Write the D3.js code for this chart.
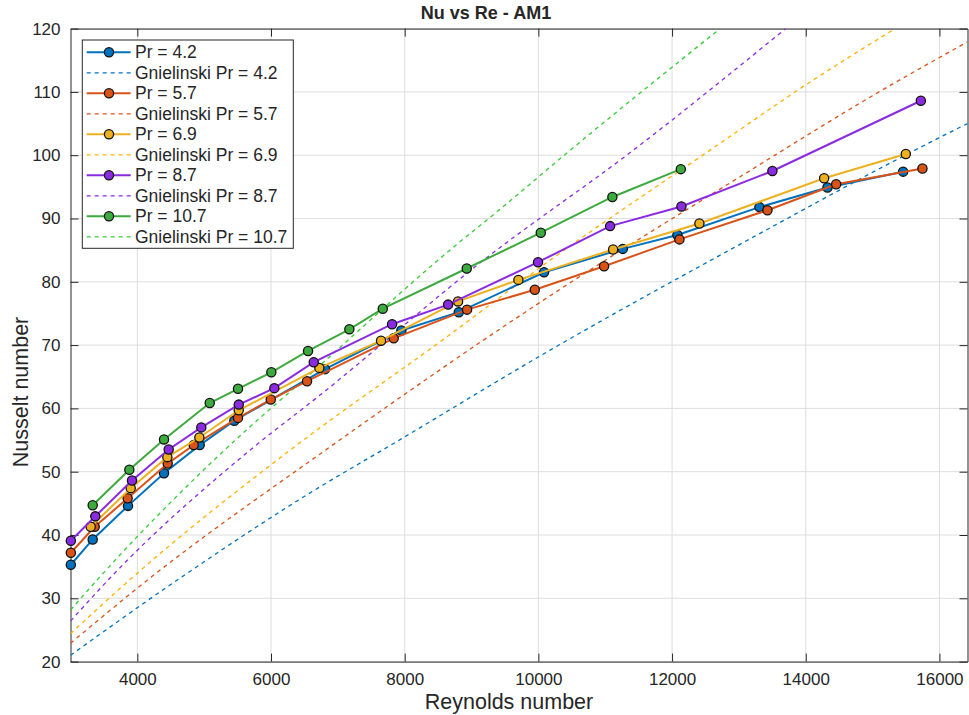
<!DOCTYPE html>
<html><head><meta charset="utf-8">
<script src="https://cdn.jsdelivr.net/npm/d3@7"></script>
<style>
body{margin:0;background:#fff;}
text{font-family:"Liberation Sans",Arial,Helvetica,sans-serif;fill:#262626;}
</style></head>
<body><svg id="chart" width="969" height="715"></svg>
<script>
// ---- data ----
const seriesNames = ["Pr = 4.2","Pr = 5.7","Pr = 6.9","Pr = 8.7","Pr = 10.7"];
const gnielNames = ["Gnielinski Pr = 4.2","Gnielinski Pr = 5.7","Gnielinski Pr = 6.9","Gnielinski Pr = 8.7","Gnielinski Pr = 10.7"];
const colors = ["#0072BD","#D95319","#EDB120","#8A2BE2","#3DAA3D"];
const dashColors = ["#0072BD","#D95319","#FFB000","#8A2BE2","#33CC33"];

const re42 = [3005,3332,3860,4399,4933,5451,6808,7950,8809,10085,11263,12080,13307,14325,15457];
const nu42 = [35.3,39.3,44.6,49.75,54.2,58.06,66.2,72.3,75.2,81.5,85.2,87.4,91.8,94.9,97.4];
const re57 = [3005,3362,3855,4454,4843,5506,5996,6539,7836,8933,9946,10983,12110,13427,14455,15746];
const nu57 = [37.2,41.3,45.8,51.3,54.2,58.5,61.4,64.3,71.07,75.6,78.75,82.45,86.7,91.3,95.4,97.9];
const re69 = [3302,3901,4449,4928,5517,6723,7646,8798,9701,11118,12409,14275,15497];
const nu69 = [41.3,47.4,52.3,55.4,59.7,66.4,70.7,76.9,80.3,85.1,89.2,96.35,100.2];
const re87 = [3005,3371,3920,4469,4957,5517,6050,6639,7811,8649,9995,11073,12140,13501,15722];
const nu87 = [39.1,42.95,48.6,53.5,57.0,60.6,63.2,67.3,73.3,76.4,83.1,88.8,91.9,97.5,108.6];
const re107 = [3332,3880,4399,5083,5506,6005,6554,7172,7672,8928,10036,11107,12131];
const nu107 = [44.7,50.3,55.1,60.85,63.1,65.7,69.07,72.5,75.75,82.1,87.76,93.4,97.8];

const gRe42 = [3000,4640,6730,7680,10175,13100,15985,16420];
const gNu42 = [21.0,33.2,47.6,53.5,69.2,86.4,102.7,105.0];
const gRe57 = [3000,4190,6800,9476,10075,13018,15113,16420];
const gNu57 = [22.9,33.2,53.3,72.9,77.1,96.6,110.1,117.9];
const gRe69 = [3000,3916,6285,8630,10175,12569,14115,15337];
const gNu69 = [24.4,33.2,53.4,71.3,83.4,100.8,111.9,120.0];
const gRe87 = [3000,3591,5686,6733,9177,11421,13700];
const gNu87 = [26.4,33.2,53.4,62.1,83.4,100.8,120.0];
const gRe107 = [3000,3441,5686,6434,8676,9476,10449,12719];
const gNu107 = [28.15,33.4,57.1,64.0,85.0,91.9,100.55,120.0];

const xTicks = [4000,6000,8000,10000,12000,14000,16000];
const yTicks = [20,30,40,50,60,70,80,90,100,110,120];

const measured = [[re42,nu42],[re57,nu57],[re69,nu69],[re87,nu87],[re107,nu107]];
const gniel = [[gRe42,gNu42],[gRe57,gNu57],[gRe69,gNu69],[gRe87,gNu87],[gRe107,gNu107]];

// ---- layout ----
const L=70.5, R=967.5, T=28.6, B=661.6;
const svg = d3.select("#chart");
const x = d3.scaleLinear().domain([3000,16420]).range([L,R]);
const y = d3.scaleLinear().domain([20,120]).range([B,T]);

svg.append("defs").append("clipPath").attr("id","clip")
  .append("rect").attr("x",L).attr("y",T).attr("width",R-L).attr("height",B-T);

// grid
const g = svg.append("g");
g.selectAll("line.gx").data(xTicks).join("line")
  .attr("x1",d=>x(d)).attr("x2",d=>x(d)).attr("y1",T).attr("y2",B)
  .attr("stroke","#dedede").attr("stroke-width",1);
g.selectAll("line.gy").data(yTicks).join("line")
  .attr("y1",d=>y(d)).attr("y2",d=>y(d)).attr("x1",L).attr("x2",R)
  .attr("stroke","#dedede").attr("stroke-width",1);

// axes
const fmt = d3.format("d");
const xAxis = d3.axisBottom(x).tickValues(xTicks).tickFormat(fmt).tickSizeInner(-8).tickSizeOuter(0).tickPadding(11);
const yAxis = d3.axisLeft(y).tickValues(yTicks).tickFormat(fmt).tickSizeInner(-8).tickSizeOuter(0).tickPadding(10);
const gx = svg.append("g").attr("transform",`translate(0,${B})`).call(xAxis);
const gy = svg.append("g").attr("transform",`translate(${L},0)`).call(yAxis);
[gx,gy].forEach(a=>{
  a.select(".domain").attr("stroke","#262626").attr("stroke-width",1);
  a.selectAll(".tick line").attr("stroke","#262626");
  a.selectAll(".tick text").style("font-size","17px").attr("fill","#262626");
});
const gxt = svg.append("g").attr("transform",`translate(0,${T})`).call(d3.axisTop(x).tickValues(xTicks).tickSizeInner(-8).tickSizeOuter(0).tickFormat(""));
const gyr = svg.append("g").attr("transform",`translate(${R},0)`).call(d3.axisRight(y).tickValues(yTicks).tickSizeInner(-8).tickSizeOuter(0).tickFormat(""));
[gxt,gyr].forEach(a=>{
  a.select(".domain").attr("stroke","#262626").attr("stroke-width",1);
  a.selectAll(".tick line").attr("stroke","#262626");
});

const plot = svg.append("g").attr("clip-path","url(#clip)");
const line = d3.line().x(d=>x(d[0])).y(d=>y(d[1])).curve(d3.curveMonotoneX);
const lineLin = d3.line().x(d=>x(d[0])).y(d=>y(d[1]));
const toPts = (a)=>a[0].map((r,i)=>[r,a[1][i]]);

for(let i=0;i<5;i++){
  plot.append("path").datum(toPts(gniel[i])).attr("d",line)
    .attr("fill","none").attr("stroke",dashColors[i]).attr("stroke-width",1.3)
    .attr("stroke-dasharray","4,4");
}
for(let i=0;i<5;i++){
  const pts = toPts(measured[i]);
  svg.append("path").datum(pts).attr("d",lineLin)
    .attr("fill","none").attr("stroke",colors[i]).attr("stroke-width",2);
  svg.append("g").selectAll("circle").data(pts).join("circle")
    .attr("cx",d=>x(d[0])).attr("cy",d=>y(d[1])).attr("r",4.6)
    .attr("fill",colors[i]).attr("stroke","#111").attr("stroke-width",1.3);
}

// labels
svg.append("text").attr("x",486).attr("y",19).attr("text-anchor","middle")
  .style("font-size","18px").style("font-weight","bold").attr("fill","#000").text("Nu vs Re - AM1");
svg.append("text").attr("x",509).attr("y",709).attr("text-anchor","middle")
  .style("font-size","21.5px").text("Reynolds number");
svg.append("text").attr("transform",`translate(28,392) rotate(-90)`).attr("text-anchor","middle")
  .style("font-size","21.5px").text("Nusselt number");

// legend
const lg = svg.append("g");
lg.append("rect").attr("x",82.3).attr("y",40).attr("width",211).attr("height",208.3)
  .attr("fill","#fff").attr("stroke","#262626").attr("stroke-width",1);
const legendItems = [];
for(let i=0;i<5;i++){
  legendItems.push({name:seriesNames[i],color:colors[i],dash:false});
  legendItems.push({name:gnielNames[i],color:dashColors[i],dash:true});
}
legendItems.forEach((d,k)=>{
  const cy = 52.3 + k*20.5;
  lg.append("line").attr("x1",86.7).attr("x2",130.7).attr("y1",cy).attr("y2",cy)
    .attr("stroke",d.color).attr("stroke-width",d.dash?1.3:2)
    .attr("stroke-dasharray",d.dash?"4,4":null);
  if(!d.dash) lg.append("circle").attr("cx",109).attr("cy",cy).attr("r",4.6)
    .attr("fill",d.color).attr("stroke","#111").attr("stroke-width",1.3);
  lg.append("text").attr("x",135).attr("y",cy).attr("dy","0.35em")
    .style("font-size","17.5px").text(d.name);
});
</script></body></html>
